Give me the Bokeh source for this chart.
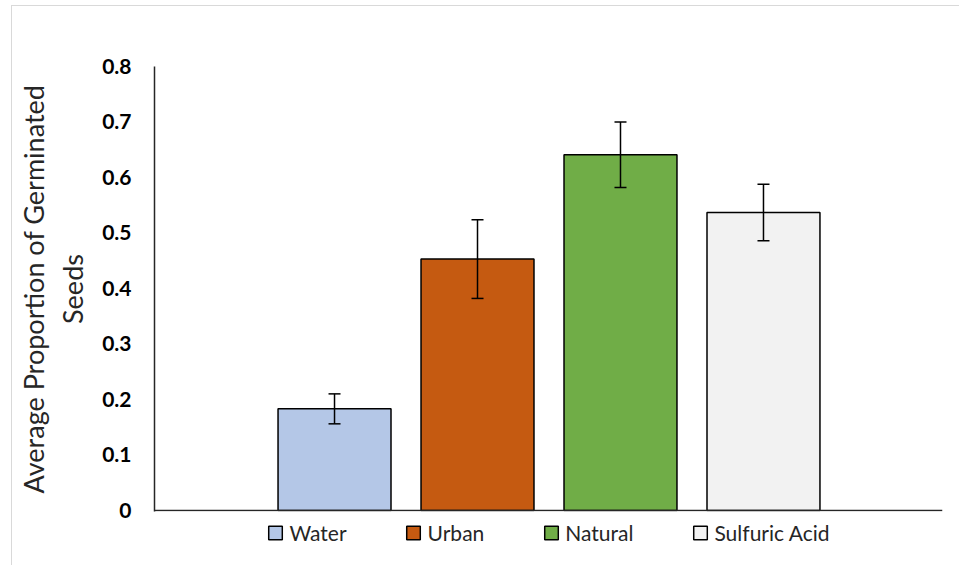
from bokeh.plotting import figure
from bokeh.models import ColumnDataSource, Whisker, TeeHead, FixedTicker, Legend, LegendItem, Range1d, Span
from bokeh.embed import file_html
from bokeh.resources import INLINE

# ---- data ----
categories = ["Water", "Urban", "Natural", "Sulfuric Acid"]
means = [0.183, 0.453, 0.641, 0.537]
errors = [0.027, 0.071, 0.059, 0.051]
colors = ["#b4c7e7", "#c55a11", "#70ad47", "#f2f2f2"]
y_ticks = [0, 0.1, 0.2, 0.3, 0.4, 0.5, 0.6, 0.7, 0.8]
y_tick_labels = ["0", "0.1", "0.2", "0.3", "0.4", "0.5", "0.6", "0.7", "0.8"]
y_title = "Average Proportion of Germinated\nSeeds"

xs = list(range(len(categories)))
src = ColumnDataSource(dict(
    x=xs, top=means, color=colors, cat=categories,
    upper=[m + e for m, e in zip(means, errors)],
    lower=[m - e for m, e in zip(means, errors)],
))

FONT = "Lato"

p = figure(frame_width=788, frame_height=445, output_backend="svg", toolbar_location=None,
           x_axis_location=None,
           x_range=Range1d(-1.259, 4.252), y_range=Range1d(-0.002, 0.8),
           min_border_left=142, min_border_right=17, min_border_top=60, min_border_bottom=50,
           margin=(5, 0, 0, 11),
           styles={"border-top": "1px solid #d9d9d9", "border-left": "1px solid #d9d9d9"})
p.outline_line_color = None
p.grid.visible = False

bars = p.vbar(x="x", top="top", bottom=0, width=0.79, source=src,
              fill_color="color", line_color="black", line_width=1.5)

# x axis line at zero
p.add_layout(Span(location=0, dimension="width", line_color="#262626", line_width=1.5, level="overlay"))

w = Whisker(source=src, base="x", upper="upper", lower="lower",
            line_color="black", line_width=1.5, level="overlay",
            upper_head=TeeHead(size=12, line_color="black", line_width=1.5),
            lower_head=TeeHead(size=12, line_color="black", line_width=1.5))
p.add_layout(w)

p.yaxis.ticker = FixedTicker(ticks=y_ticks)
p.yaxis.major_label_overrides = {t: l for t, l in zip(y_ticks, y_tick_labels)}
p.yaxis.major_tick_line_color = None
p.yaxis.minor_tick_line_color = None
p.yaxis.major_tick_out = 0
p.yaxis.major_tick_in = 0
p.yaxis.minor_tick_out = 0
p.yaxis.axis_line_color = "#262626"
p.yaxis.axis_line_width = 1.5
p.yaxis.major_label_standoff = 23
p.yaxis.major_label_text_font = FONT
p.yaxis.major_label_text_font_style = "bold"
p.yaxis.major_label_text_font_size = "21px"
p.yaxis.major_label_text_color = "black"
p.yaxis.axis_label = y_title
p.yaxis.axis_label_text_font = FONT
p.yaxis.axis_label_text_font_style = "normal"
p.yaxis.axis_label_text_font_size = "27px"
p.yaxis.axis_label_text_color = "#262626"
p.yaxis.axis_label_standoff = 10
p.yaxis.axis_label_text_line_height = 1.2

# legend
items = [LegendItem(label=c, renderers=[bars], index=i) for i, c in enumerate(categories)]
leg = Legend(items=items, orientation="horizontal", location="top_center",
             glyph_width=17, glyph_height=17, label_standoff=6, spacing=58,
             label_text_font=FONT, label_text_font_size="21px", label_text_color="#262626",
             border_line_color=None, background_fill_alpha=0,
             padding=0, margin=9)
p.add_layout(leg, "below")

open("out.html", "w").write(file_html(p, INLINE))
